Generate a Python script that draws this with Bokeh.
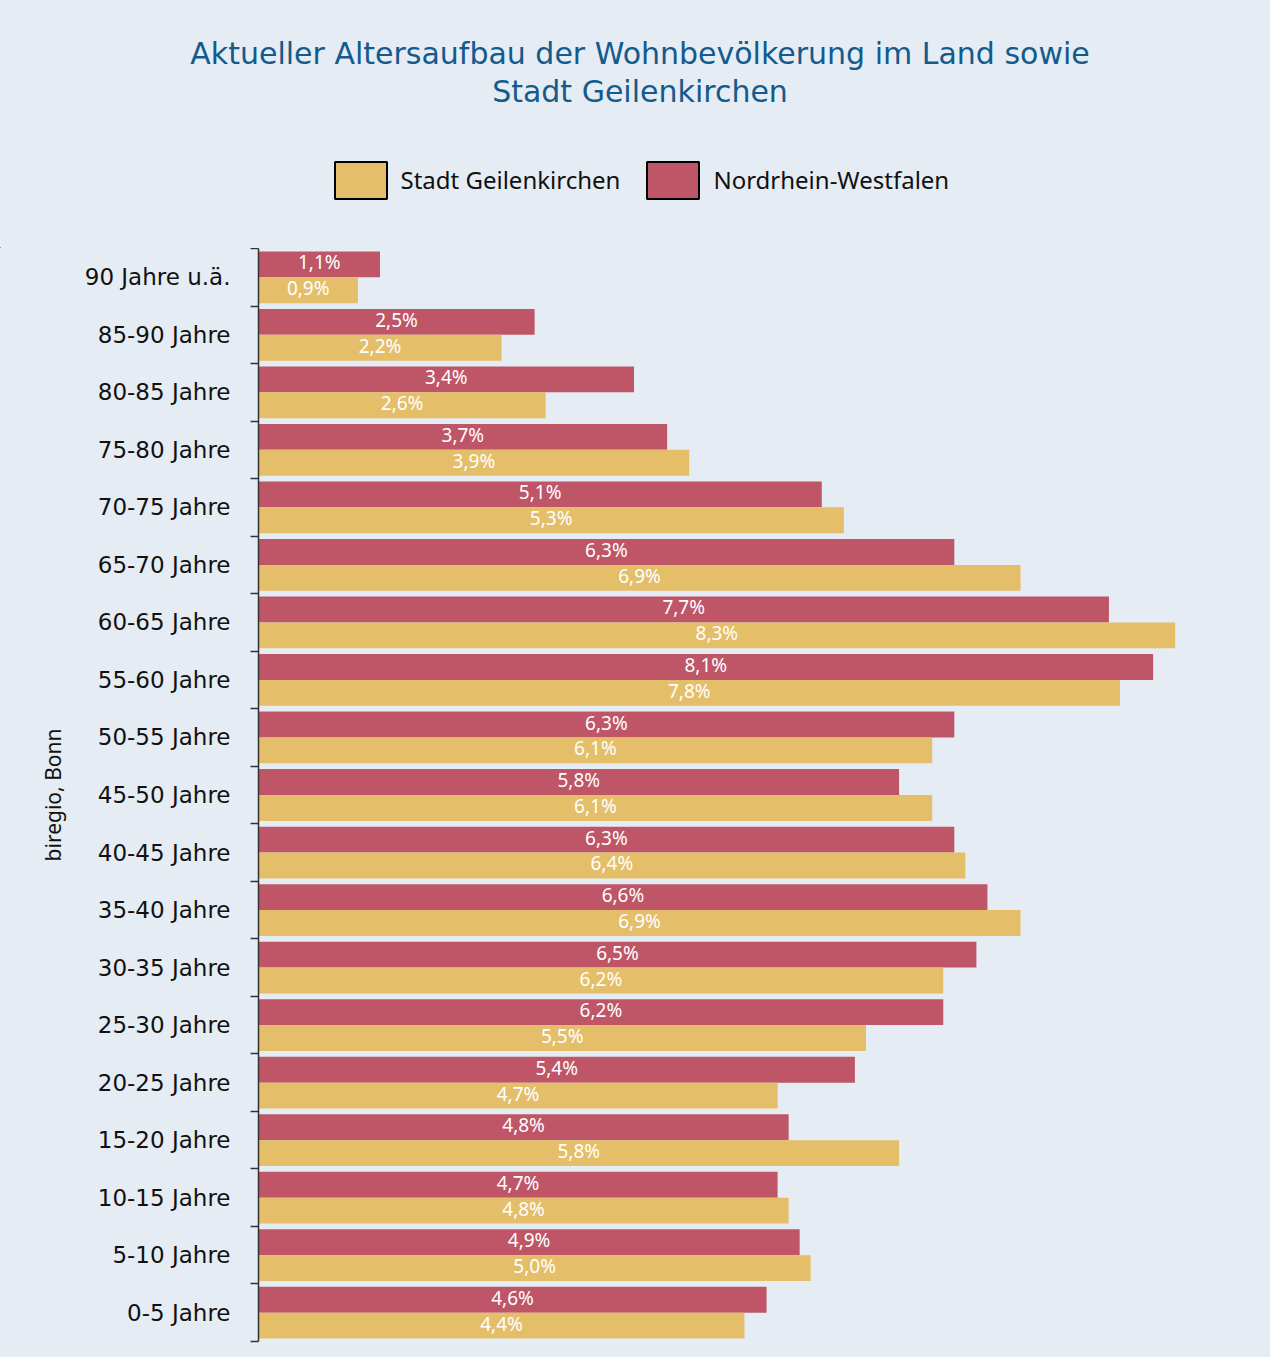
from bokeh.plotting import figure
from bokeh.layouts import column
from bokeh.models import ColumnDataSource, FixedTicker, Legend, LegendItem, Range1d
from bokeh.core.properties import value
from bokeh.embed import file_html
from bokeh.resources import INLINE

# ---------------- data ----------------
categories = ["90 Jahre u.ä.", "85-90 Jahre", "80-85 Jahre", "75-80 Jahre", "70-75 Jahre",
              "65-70 Jahre", "60-65 Jahre", "55-60 Jahre", "50-55 Jahre", "45-50 Jahre",
              "40-45 Jahre", "35-40 Jahre", "30-35 Jahre", "25-30 Jahre", "20-25 Jahre",
              "15-20 Jahre", "10-15 Jahre", "5-10 Jahre", "0-5 Jahre"]
nrw = [1.1, 2.5, 3.4, 3.7, 5.1, 6.3, 7.7, 8.1, 6.3, 5.8, 6.3, 6.6, 6.5, 6.2, 5.4, 4.8, 4.7, 4.9, 4.6]
geilenkirchen = [0.9, 2.2, 2.6, 3.9, 5.3, 6.9, 8.3, 7.8, 6.1, 6.1, 6.4, 6.9, 6.2, 5.5, 4.7, 5.8, 4.8, 5.0, 4.4]
series_names = ["Stadt Geilenkirchen", "Nordrhein-Westfalen"]
title_lines = ["Aktueller Altersaufbau der Wohnbevölkerung im Land sowie", "Stadt Geilenkirchen"]
source_text = "biregio, Bonn"

# ---------------- styles ----------------
BG = "#E5ECF3"
RED = "#BE5668"
YELLOW = "#E4BE69"
TITLE_COLOR = "#145A8C"
FONT = "Noto Sans"
TFONT = "DejaVu Sans"
HALF = 0.45
W, H = 1270, 1357
HEAD_H = 248

n = len(categories)
centers = [n - i - 0.5 for i in range(n)]


def fmt(v):
    return ("%.1f" % v).replace(".", ",") + "%"


# ---------------- header: title + legend ----------------
head = figure(width=W, height=HEAD_H, x_range=Range1d(0, W), y_range=Range1d(0, HEAD_H),
              output_backend="svg", toolbar_location=None,
              x_axis_location=None, y_axis_location=None,
              min_border=0, min_border_left=0, min_border_right=0,
              min_border_top=0, min_border_bottom=0)
head.frame_align = False
head.background_fill_alpha = 0
head.border_fill_alpha = 0
head.outline_line_color = None
head.grid.visible = False

head.text(x=[W / 2 + 4.5, W / 2 + 4.5], y=[HEAD_H - 53, HEAD_H - 91], text=title_lines,
          text_color=TITLE_COLOR, text_font=value(TFONT), text_font_size="30px",
          text_align="center", text_baseline="middle")

# legend swatches (one hidden row each, far outside the visible range)
leg_y = head.hbar(y=[-5000], left=[-5000], right=[-4999], height=1,
                  fill_color=YELLOW, line_color="black", line_width=2)
leg_r = head.hbar(y=[-5000], left=[-5000], right=[-4999], height=1,
                  fill_color=RED, line_color="black", line_width=2)
legend = Legend(items=[LegendItem(label=series_names[0], renderers=[leg_y]),
                       LegendItem(label=series_names[1], renderers=[leg_r])],
                orientation="horizontal", location=(327.5, HEAD_H - 202.6),
                background_fill_alpha=0, border_line_color=None,
                padding=0, margin=0, spacing=20,
                glyph_width=65, glyph_height=46, label_standoff=8,
                label_text_font=FONT, label_text_font_size="24px",
                label_text_color="#111111")
head.add_layout(legend, "center")

# ---------------- main chart ----------------
red_src = ColumnDataSource(dict(
    y=[c + HALF / 2 for c in centers], right=nrw,
    xm=[v / 2 for v in nrw], label=[fmt(v) for v in nrw]))
yel_src = ColumnDataSource(dict(
    y=[c - HALF / 2 for c in centers], right=geilenkirchen,
    xm=[v / 2 for v in geilenkirchen], label=[fmt(v) for v in geilenkirchen]))

p = figure(width=W, height=H - HEAD_H, x_range=Range1d(0, 9.0), y_range=Range1d(0, n),
           output_backend="svg", toolbar_location=None, x_axis_location=None,
           min_border_left=258, min_border_right=18, min_border_top=0, min_border_bottom=16)
p.frame_align = False
p.background_fill_alpha = 0
p.border_fill_alpha = 0
p.outline_line_color = None
p.grid.visible = False

p.hbar(y="y", left=0, right="right", height=HALF, source=red_src,
       fill_color=RED, line_color=None)
p.hbar(y="y", left=0, right="right", height=HALF, source=yel_src,
       fill_color=YELLOW, line_color=None)

for src in (red_src, yel_src):
    p.text(x="xm", y="y", text="label", source=src, text_color="white",
           text_font=value(FONT), text_font_size="19px", text_align="center",
           text_baseline="middle", y_offset=-2)

# y axis: labels at category centres, ticks at category boundaries
ax = p.yaxis[0]
ax.ticker = FixedTicker(ticks=centers, minor_ticks=list(range(n + 1)))
ax.major_label_overrides = {c: lab for c, lab in zip(centers, categories)}
ax.major_tick_line_color = None
ax.major_tick_out = 0
ax.major_tick_in = 0
ax.minor_tick_line_color = "#333333"
ax.minor_tick_line_width = 1.5
ax.minor_tick_out = 8
ax.minor_tick_in = 0
ax.axis_line_color = "#333333"
ax.axis_line_width = 1.5
ax.major_label_text_font = TFONT
ax.major_label_text_font_size = "23px"
ax.major_label_text_color = "#111111"
ax.major_label_standoff = 20
ax.axis_label = source_text
ax.axis_label_text_font = FONT
ax.axis_label_text_font_size = "21px"
ax.axis_label_text_font_style = "normal"
ax.axis_label_text_color = "#111111"
ax.axis_label_standoff = 15

layout = column(head, p, spacing=0, styles={"background-color": BG})
open("out.html", "w").write(file_html(layout, INLINE))
